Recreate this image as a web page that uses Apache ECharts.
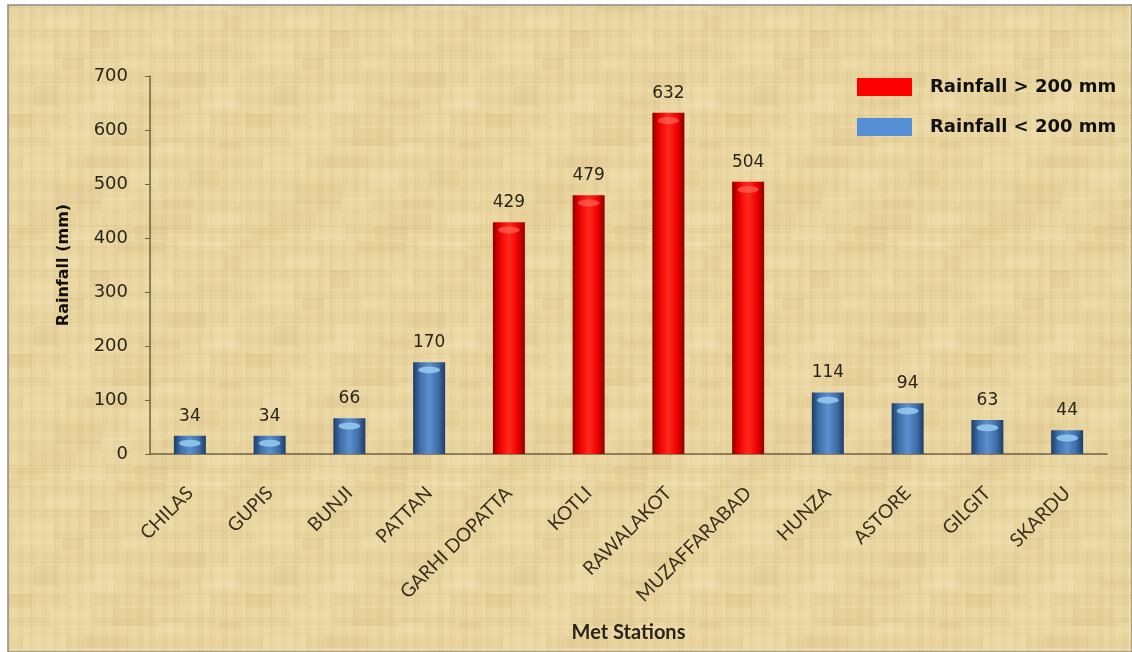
<!DOCTYPE html>
<html>
<head>
<meta charset="utf-8">
<script src="https://cdn.jsdelivr.net/npm/echarts@6/dist/echarts.min.js"></script>
<style>
  html, body { margin: 0; padding: 0; background: #ffffff; }
  #chart { width: 1132px; height: 652px; }
</style>
</head>
<body>
<div id="chart"></div>
<script>
// Station rainfall totals (mm)
const stations = ['CHILAS', 'GUPIS', 'BUNJI', 'PATTAN', 'GARHI DOPATTA', 'KOTLI',
  'RAWALAKOT', 'MUZAFFARABAD', 'HUNZA', 'ASTORE', 'GILGIT', 'SKARDU'];
const rainfall = [34, 34, 66, 170, 429, 479, 632, 504, 114, 94, 63, 44];
const threshold = 200;
const yTicks = [0, 100, 200, 300, 400, 500, 600, 700];
const seriesNames = ['Rainfall > 200 mm', 'Rainfall < 200 mm'];

// Split the stations into the two legend groups
const highData = rainfall.map(v => (v > threshold ? v : '-'));
const lowData = rainfall.map(v => (v <= threshold ? v : '-'));

// Parchment-like texture drawn on a small canvas and tiled
function parchment() {
  const c = document.createElement('canvas');
  c.width = 240; c.height = 240;
  const g = c.getContext('2d');
  g.fillStyle = '#ead6a0';
  g.fillRect(0, 0, 240, 240);
  for (let i = 0; i < 240; i += 3) {
    const a = 0.05 + 0.06 * Math.abs(Math.sin(i * 0.37) * Math.cos(i * 0.11));
    g.fillStyle = (Math.sin(i * 0.53) > 0) ? `rgba(255,246,215,${a})` : `rgba(190,160,100,${a})`;
    g.fillRect(i, 0, 2, 240);
    g.fillStyle = (Math.cos(i * 0.29) > 0) ? `rgba(255,244,210,${a})` : `rgba(185,155,95,${a * 0.8})`;
    g.fillRect(0, i, 240, 2);
  }
  for (let k = 0; k < 40; k++) {
    const x = (k * 67) % 240, y = (k * 113) % 240;
    g.fillStyle = (k % 2) ? 'rgba(250,238,200,0.18)' : 'rgba(200,170,110,0.10)';
    g.fillRect(x, y, 20 + (k * 7) % 30, 8 + (k * 5) % 14);
  }
  return c;
}

function cylinder(edge, mid, light) {
  return new echarts.graphic.LinearGradient(0, 0, 1, 0, [
    { offset: 0, color: edge },
    { offset: 0.22, color: mid },
    { offset: 0.5, color: light },
    { offset: 0.78, color: mid },
    { offset: 1, color: edge }
  ]);
}

const chart = echarts.init(document.getElementById('chart'));
const textDark = '#2b2418';

chart.setOption({
  animation: false,
  backgroundColor: '#ffffff',
  graphic: [{
    type: 'rect',
    z: -10,
    shape: { x: 8, y: 5, width: 1124, height: 647 },
    style: { fill: { image: parchment(), repeat: 'repeat' }, stroke: '#8a8a8a', lineWidth: 1.5 }
  }],
  legend: {
    orient: 'vertical',
    left: 852,
    top: 73,
    itemWidth: 55,
    itemHeight: 18,
    itemGap: 22,
    icon: 'rect',
    data: [
      { name: seriesNames[0], itemStyle: { color: '#ff0000' } },
      { name: seriesNames[1], itemStyle: { color: '#5590d6' } }
    ],
    textStyle: { fontFamily: 'DejaVu Sans', fontWeight: 'bold', fontSize: 18, color: '#111', padding: [0, 0, 0, 13] }
  },
  grid: { left: 150, right: 25, top: 76, bottom: 198 },
  xAxis: {
    type: 'category',
    data: stations,
    name: 'Met Stations',
    nameLocation: 'middle',
    nameGap: 169,
    nameTextStyle: { fontFamily: 'Lato', fontWeight: 'bold', fontSize: 20, color: textDark },
    axisLine: { lineStyle: { color: '#6d6147', width: 1.5 } },
    axisTick: { show: false },
    axisLabel: {
      rotate: 45, interval: 0, margin: 36,
      fontFamily: 'Lato', fontSize: 19, color: '#3a2f1b'
    }
  },
  yAxis: {
    type: 'value',
    min: yTicks[0],
    max: yTicks[yTicks.length - 1],
    interval: 100,
    name: 'Rainfall (mm)',
    nameLocation: 'middle',
    nameGap: 78,
    nameTextStyle: { fontFamily: 'DejaVu Sans', fontWeight: 'bold', fontSize: 16, color: '#111' },
    axisLine: { show: true, lineStyle: { color: '#6d6147', width: 1.5 } },
    axisTick: { show: true, length: 5, lineStyle: { color: '#6d6147' } },
    splitLine: { show: false },
    axisLabel: { margin: 22, fontFamily: 'DejaVu Sans', fontSize: 18, color: '#2b2418' }
  },
  series: [
    {
      name: seriesNames[0],
      type: 'bar',
      data: highData,
      barWidth: 32,
      barGap: '-100%',
      itemStyle: { color: cylinder('#8a0000', '#ee0000', '#ff2a1a') },
      label: { show: true, position: 'top', distance: 11, fontFamily: 'DejaVu Sans', fontSize: 17, color: '#2b2418' }
    },
    {
      name: seriesNames[1],
      type: 'bar',
      data: lowData,
      barWidth: 32,
      barGap: '-100%',
      itemStyle: { color: cylinder('#1f3d66', '#3f6ea8', '#5b8fcf') },
      label: { show: true, position: 'top', distance: 11, fontFamily: 'DejaVu Sans', fontSize: 17, color: '#2b2418' }
    },
    {
      // highlight ring at the top of each cylinder
      type: 'pictorialBar',
      data: rainfall.map(v => ({
        value: v,
        itemStyle: { color: v > threshold ? 'rgba(255,120,110,0.55)' : 'rgba(150,205,240,0.85)' }
      })),
      symbol: 'circle',
      symbolSize: [22, 7],
      symbolPosition: 'end',
      symbolOffset: [0, '60%'],
      barGap: '-100%',
      z: 5,
      silent: true,
      tooltip: { show: false }
    }
  ]
});
</script>
</body>
</html>
